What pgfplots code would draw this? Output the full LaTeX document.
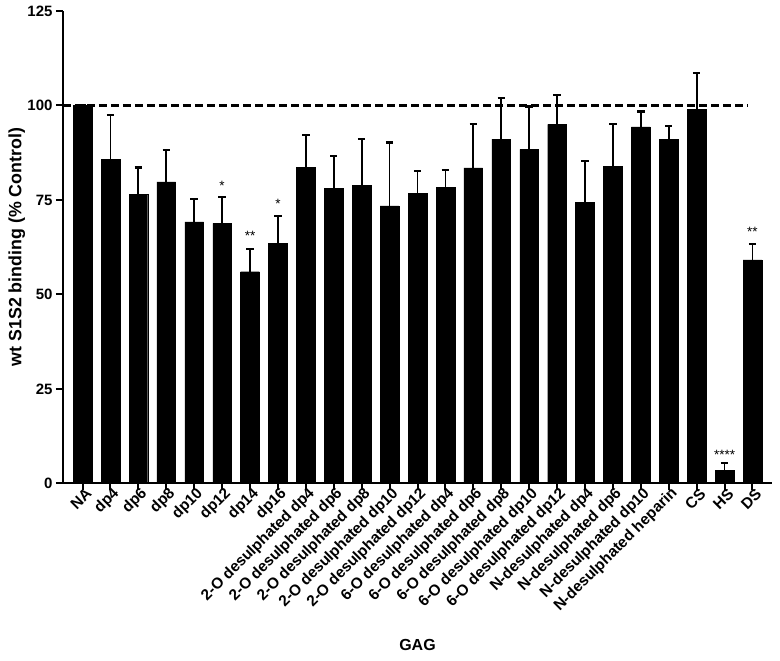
\documentclass[border=0pt]{standalone}
\usepackage{fontspec}
\setmainfont{Liberation Sans}
\usepackage{pgfplots}
\usepackage{pgfplotstable}
\pgfplotsset{compat=1.18}
\pgfplotstableread{
idx value err
0 100.0 0.0
1 85.8 11.6
2 76.5 7.1
3 79.8 8.4
4 69.2 6.1
5 68.8 6.9
6 56.0 6.1
7 63.5 7.3
8 83.6 8.6
9 78.1 8.5
10 78.9 12.2
11 73.4 16.8
12 76.8 5.9
13 78.4 4.5
14 83.5 11.6
15 91.1 10.9
16 88.4 11.3
17 95.0 7.7
18 74.4 11.0
19 83.9 11.2
20 94.3 4.1
21 91.1 3.5
22 99.0 9.6
23 3.5 1.8
24 59.1 4.3
}\bars
\begin{document}
\begin{tikzpicture}
\begin{axis}[
  scale only axis,
  width=709pt, height=472.3pt,
  at={(0,0)}, anchor=south west,
  xmin=-0.7, xmax=24.7, ymin=0, ymax=125,
  axis lines*=left,
  axis line style={line width=2pt, black},
  tick align=outside,
  major tick length=7pt,
  major tick style={line width=2pt, black},
  xtick={0,...,24},
  xticklabels={NA,dp4,dp6,dp8,dp10,dp12,dp14,dp16,
    2-O desulphated dp4,2-O desulphated dp6,2-O desulphated dp8,2-O desulphated dp10,2-O desulphated dp12,
    6-O desulphated dp4,6-O desulphated dp6,6-O desulphated dp8,6-O desulphated dp10,6-O desulphated dp12,
    N-desulphated dp4,N-desulphated dp6,N-desulphated dp10,N-desulphated heparin,CS,HS,DS},
  xticklabel style={rotate=45, anchor=east, font=\bfseries\fontsize{15.4}{17}\selectfont, inner sep=1pt, xshift=5pt, yshift=-5pt},
  ytick={0,25,50,75,100,125},
  yticklabel style={font=\bfseries\fontsize{15}{17}\selectfont},
  /pgf/number format/assume math mode=true,
  ylabel={wt S1S2 binding (\% Control)},
  xlabel={GAG},
  every axis y label/.style={at={(axis description cs:-0.065,0.5)}, rotate=90, anchor=center, font=\bfseries\fontsize{17.8}{20}\selectfont},
  every axis x label/.style={at={(axis description cs:0.5,-0.342)}, anchor=center, font=\bfseries\fontsize{16}{18}\selectfont},
  clip=false,
]
\addplot[ybar, bar width=18.7pt, fill=black, draw=black,
  error bars/.cd, y dir=plus, y explicit,
  error bar style={line width=1.8pt, black},
  error mark options={rotate=90, mark size=3.7pt, line width=2.2pt, black}]
  table[x=idx, y=value, y error=err] {\bars};
\addplot[sharp plot, black, line width=2.3pt, dash pattern=on 8pt off 4pt] coordinates {(-0.7,100) (23.85,100)};
\node[anchor=base, font=\fontsize{13.5}{13.5}\selectfont] at (axis cs:5,77.6) {*};
\node[anchor=base, font=\fontsize{13.5}{13.5}\selectfont] at (axis cs:6,64.2) {**};
\node[anchor=base, font=\fontsize{13.5}{13.5}\selectfont] at (axis cs:7,72.8) {*};
\node[anchor=base, font=\fontsize{13.5}{13.5}\selectfont] at (axis cs:23,6.4) {****};
\node[anchor=base, font=\fontsize{13.5}{13.5}\selectfont] at (axis cs:24,65.3) {**};
\end{axis}
\pgfresetboundingbox
\path (-63pt,-177.7pt) rectangle (717pt,483.3pt);
\end{tikzpicture}
\end{document}
